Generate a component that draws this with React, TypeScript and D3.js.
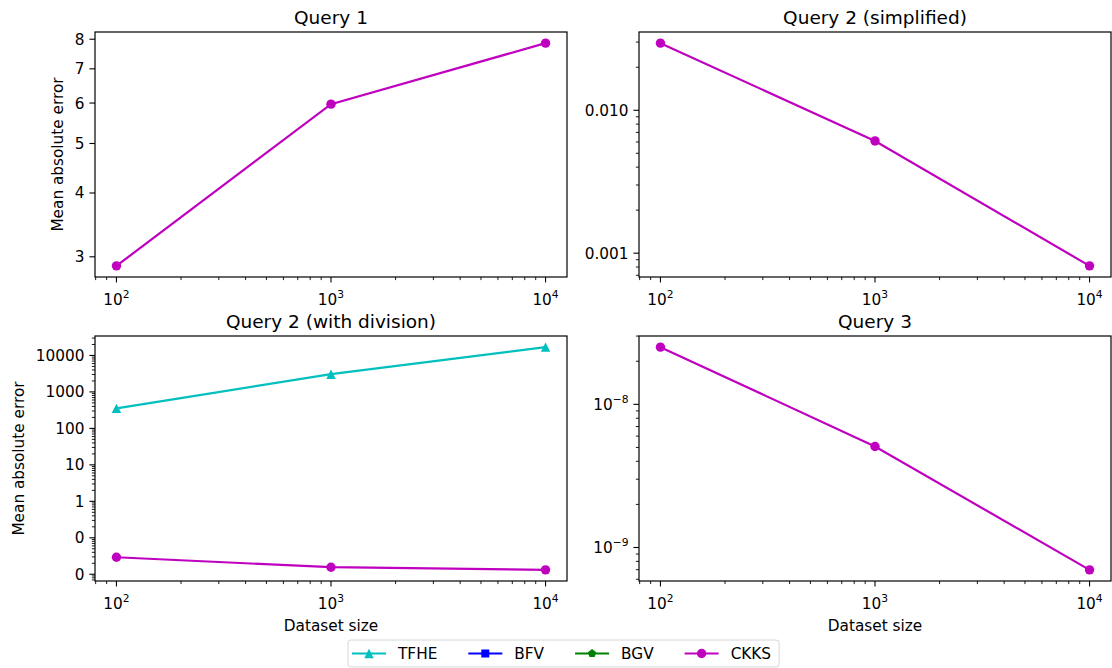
import React, { useRef, useEffect } from 'react';
import * as d3 from 'd3';

// dataset sizes (x axis)
const sizes = [100, 1000, 10000];

// mean absolute error per query
const q1Ckks = [2.88, 5.97, 7.86];
const q2sCkks = [0.0295, 0.0061, 0.000815];
const q2dTfhe = [354, 3060, 16900];
const q2dCkks = [0.0293, 0.0156, 0.0132];
const q3Ckks = [2.51e-8, 5.08e-9, 6.98e-10];

// y tick values and the labels matplotlib printed for them
const q1Ticks = [3, 4, 5, 6, 7, 8];
const q1Labels = ['3', '4', '5', '6', '7', '8'];
const q2sTicks = [0.01, 0.001];
const q2sLabels = ['0.010', '0.001'];
const q2dTicks = [10000, 1000, 100, 10, 1, 0.1, 0.01];
const q2dLabels = ['10000', '1000', '100', '10', '1', '0', '0'];
const q3Ticks = [1e-8, 1e-9];
const q3Exps = ['−8', '−9'];

const xTicks = [100, 1000, 10000];
const xExps = ['2', '3', '4'];

const schemes = ['TFHE', 'BFV', 'BGV', 'CKKS'];
const colors: Record<string, string> = { TFHE: '#00bfbf', BFV: '#0000ff', BGV: '#008000', CKKS: '#bf00bf' };

const W = 1112;
const H = 668;
const PW = 472;
const PH = 245;
const FONT = 'DejaVu Sans';
const FS = 15.3; // tick / label size
const TFS = 18.5; // title size
const SUP = 10.7;

const logPad = (vals: number[]) => {
  const lo = Math.log10(d3.min(vals)!);
  const hi = Math.log10(d3.max(vals)!);
  const m = (hi - lo) * 0.05;
  return [Math.pow(10, lo - m), Math.pow(10, hi + m)];
};

const minorTicks = (domain: number[], majors: number[]) => {
  const out: number[] = [];
  for (let k = Math.floor(Math.log10(domain[0])); k <= Math.ceil(Math.log10(domain[1])); k++) {
    for (let m = 1; m <= 9; m++) {
      const v = m * Math.pow(10, k);
      if (v >= domain[0] && v <= domain[1] && !majors.some(t => Math.abs(t - v) / v < 1e-6)) out.push(v);
    }
  }
  return out;
};

const drawMarker = (g: any, name: string, x: number, y: number) => {
  const c = colors[name];
  if (name === 'CKKS') {
    g.append('circle').attr('cx', x).attr('cy', y).attr('r', 4.7).attr('fill', c);
  } else if (name === 'TFHE') {
    const r = 4.7;
    g.append('path').attr('d', `M${x},${y - r}L${x + r},${y + r}L${x - r},${y + r}Z`).attr('fill', c);
  } else if (name === 'BFV') {
    g.append('rect').attr('x', x - 4).attr('y', y - 4).attr('width', 8).attr('height', 8).attr('fill', c);
  } else {
    const pts = d3.range(5).map(i => {
      const a = -Math.PI / 2 + (i * 2 * Math.PI) / 5;
      return [x + 4.4 * Math.cos(a), y + 4.4 * Math.sin(a)];
    });
    g.append('path').attr('d', 'M' + pts.map(p => p.join(',')).join('L') + 'Z').attr('fill', c);
  }
};

const App = () => {
  const svgRef = useRef<SVGSVGElement>(null);

  useEffect(() => {
    const svg = d3.select(svgRef.current);
    svg.selectAll('*').remove();
    svg.append('rect').attr('width', W).attr('height', H).attr('fill', '#fff');

    const panels = [
      { title: 'Query 1', left: 95, top: 32, series: [{ name: 'CKKS', values: q1Ckks }], ticks: q1Ticks, labels: q1Labels, exps: null as string[] | null, minor: false, ylab: 57.5, xlab: false },
      { title: 'Query 2 (simplified)', left: 639, top: 32, series: [{ name: 'CKKS', values: q2sCkks }], ticks: q2sTicks, labels: q2sLabels, exps: null, minor: true, ylab: 0, xlab: false },
      { title: 'Query 2 (with division)', left: 95, top: 336, series: [{ name: 'TFHE', values: q2dTfhe }, { name: 'CKKS', values: q2dCkks }], ticks: q2dTicks, labels: q2dLabels, exps: null, minor: true, ylab: 18.5, xlab: true },
      { title: 'Query 3', left: 639, top: 336, series: [{ name: 'CKKS', values: q3Ckks }], ticks: q3Ticks, labels: null as string[] | null, exps: q3Exps, minor: true, ylab: 0, xlab: true },
    ];

    const xDomain = logPad(sizes);

    panels.forEach(p => {
      const g = svg.append('g').attr('font-family', FONT).attr('fill', '#000');
      const x = d3.scaleLog().domain(xDomain).range([p.left, p.left + PW]);
      const yDomain = logPad(p.series.flatMap(s => s.values));
      const y = d3.scaleLog().domain(yDomain).range([p.top + PH, p.top]);
      const bottom = p.top + PH;

      // x ticks
      xTicks.forEach((t, i) => {
        g.append('line').attr('x1', x(t)).attr('x2', x(t)).attr('y1', bottom).attr('y2', bottom + 5.4).attr('stroke', '#000').attr('stroke-width', 1.1);
        const tx = g.append('text').attr('x', x(t)).attr('y', bottom + 28).attr('text-anchor', 'middle').attr('font-size', FS);
        tx.append('tspan').text('10');
        tx.append('tspan').attr('dy', -6.8).attr('font-size', SUP).text(xExps[i]);
      });
      minorTicks(xDomain, xTicks).forEach(t => {
        g.append('line').attr('x1', x(t)).attr('x2', x(t)).attr('y1', bottom).attr('y2', bottom + 3.1).attr('stroke', '#000').attr('stroke-width', 0.9);
      });

      // y ticks
      p.ticks.forEach((t, i) => {
        g.append('line').attr('x1', p.left - 5.6).attr('x2', p.left).attr('y1', y(t)).attr('y2', y(t)).attr('stroke', '#000').attr('stroke-width', 1.1);
        const tx = g.append('text').attr('x', p.left - 10.5).attr('y', y(t) + 5.5).attr('text-anchor', 'end').attr('font-size', FS);
        if (p.labels) {
          tx.text(p.labels[i]);
        } else if (p.exps) {
          tx.append('tspan').text('10');
          tx.append('tspan').attr('dy', -6.8).attr('font-size', SUP).text(p.exps[i]);
        }
      });
      if (p.minor) {
        minorTicks(yDomain, p.ticks).forEach(t => {
          g.append('line').attr('x1', p.left - 3.1).attr('x2', p.left).attr('y1', y(t)).attr('y2', y(t)).attr('stroke', '#000').attr('stroke-width', 0.9);
        });
      }

      // series
      const line = d3.line<number>().x((d, i) => x(sizes[i])).y(d => y(d));
      p.series.forEach(s => {
        g.append('path').attr('d', line(s.values)).attr('fill', 'none').attr('stroke', colors[s.name]).attr('stroke-width', 2.2);
        s.values.forEach((v, i) => drawMarker(g, s.name, x(sizes[i]), y(v)));
      });

      // frame
      g.append('rect').attr('x', p.left).attr('y', p.top).attr('width', PW).attr('height', PH)
        .attr('fill', 'none').attr('stroke', '#000').attr('stroke-width', 1.2);

      g.append('text').attr('x', p.left + PW / 2).attr('y', p.top - 8).attr('text-anchor', 'middle').attr('font-size', TFS).text(p.title);
      if (p.ylab) {
        g.append('text').attr('transform', `translate(${p.ylab},${p.top + PH / 2}) rotate(-90)`)
          .attr('text-anchor', 'middle').attr('dominant-baseline', 'central').attr('font-size', FS).text('Mean absolute error');
      }
      if (p.xlab) {
        g.append('text').attr('x', p.left + PW / 2).attr('y', 631).attr('text-anchor', 'middle').attr('font-size', FS).text('Dataset size');
      }
    });

    // legend
    const lg = svg.append('g').attr('font-family', FONT);
    const box = lg.append('rect').attr('y', 640).attr('height', 27).attr('rx', 3)
      .attr('fill', '#fff').attr('stroke', '#d6d6d6').attr('stroke-width', 1);
    let cx = 352;
    schemes.forEach(name => {
      lg.append('line').attr('x1', cx).attr('x2', cx + 34).attr('y1', 653.5).attr('y2', 653.5).attr('stroke', colors[name]).attr('stroke-width', 2.2);
      drawMarker(lg, name, cx + 17, 653.5);
      const t = lg.append('text').attr('x', cx + 46).attr('y', 659).attr('font-size', FS).attr('fill', '#000').text(name);
      const w = (t.node() as SVGTextElement).getComputedTextLength();
      cx = cx + 46 + w + 31;
    });
    box.attr('x', 348).attr('width', cx - 31 - 348 + 8);
  }, []);

  return <svg ref={svgRef} width={W} height={H} style={{ position: 'absolute', left: 0, top: 0 }}></svg>;
};

export default App;
